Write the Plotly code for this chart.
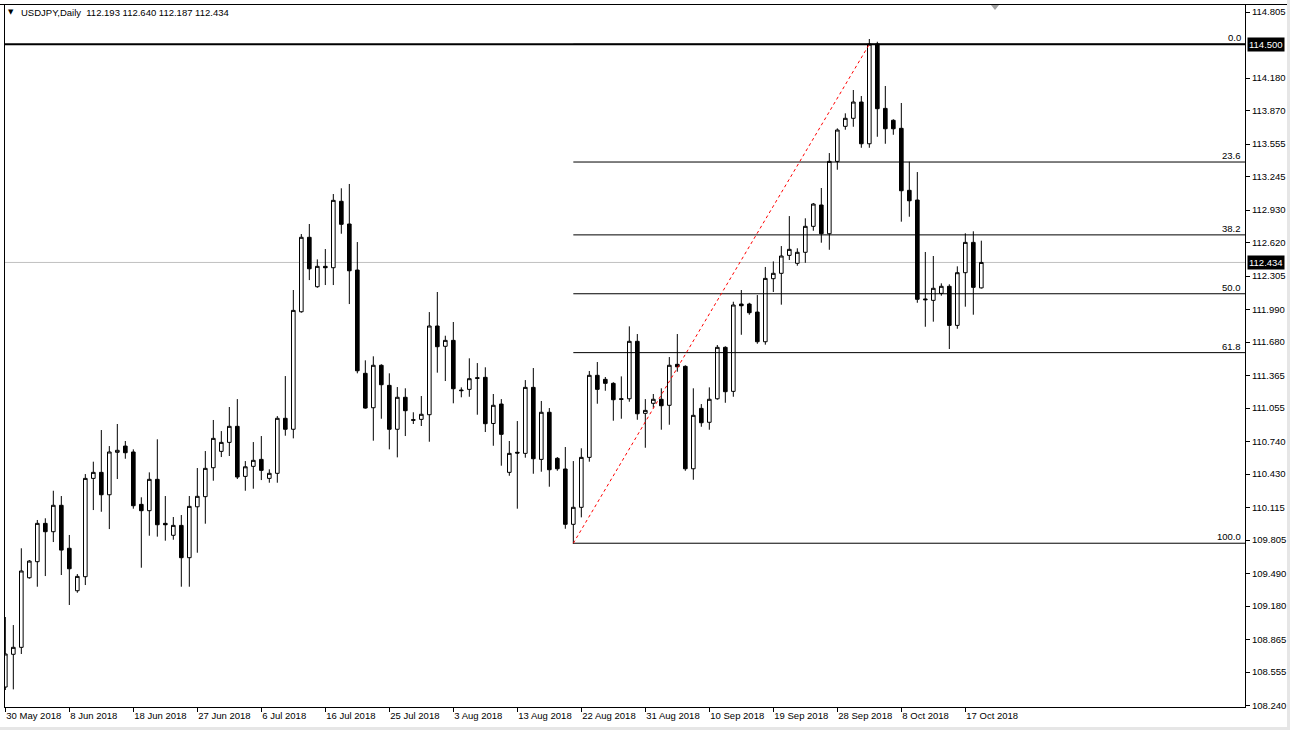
import plotly.graph_objects as go

# ---------------- data ----------------
symbol = "USDJPY,Daily"
date_labels = ["30 May 2018", "8 Jun 2018", "18 Jun 2018", "27 Jun 2018", "6 Jul 2018",
               "16 Jul 2018", "25 Jul 2018", "3 Aug 2018", "13 Aug 2018", "22 Aug 2018",
               "31 Aug 2018", "10 Sep 2018", "19 Sep 2018", "28 Sep 2018", "8 Oct 2018",
               "17 Oct 2018"]
bars_per_label = 8
price_ticks = [114.805, 114.180, 113.870, 113.555, 113.245, 112.930, 112.620, 112.305,
               111.990, 111.680, 111.365, 111.055, 110.740, 110.430, 110.115, 109.805,
               109.490, 109.180, 108.865, 108.555, 108.240]

opens = [108.413, 108.723, 108.789, 109.448, 109.600, 109.963, 109.884, 110.134, 109.727, 109.325,
         109.458, 110.389, 110.446, 110.234, 110.636, 110.695, 110.639, 110.143, 110.083, 110.380,
         109.963, 109.850, 109.944, 109.638, 110.120, 110.216, 110.490, 110.645, 110.730, 110.882,
         110.408, 110.503, 110.569, 110.389, 110.437, 110.958, 110.854, 111.967, 112.672, 112.204,
         112.397, 112.384, 113.013, 112.798, 112.362, 111.384, 111.058, 111.460, 111.270, 110.854,
         111.157, 110.945, 110.948, 110.992, 111.832, 111.640, 111.696, 111.226, 111.232, 111.342,
         111.346, 110.909, 111.093, 110.446, 110.636, 110.626, 111.251, 110.569, 111.015, 110.579,
         110.478, 109.954, 110.115, 110.588, 111.365, 111.327, 111.289, 111.143, 111.143, 111.687,
         111.005, 111.100, 111.138, 111.081, 111.469, 111.450, 110.480, 111.052, 110.920, 111.143,
         111.630, 111.213, 112.040, 112.040, 111.964, 111.683, 112.280, 112.331, 112.501, 112.426,
         112.530, 112.776, 112.978, 112.706, 113.391, 113.723, 113.799, 113.953, 113.558, 114.502,
         113.893, 113.780, 113.704, 113.117, 113.025, 112.088, 112.075, 112.141, 112.208, 111.838,
         112.337, 112.624, 112.193]
highs = [109.076, 109.000, 109.727, 109.616, 109.995, 110.011, 110.272, 110.222, 109.853, 109.483,
         110.430, 110.547, 110.847, 110.695, 110.904, 110.743, 110.664, 110.210, 110.446, 110.759,
         110.222, 110.023, 110.042, 110.222, 110.487, 110.648, 110.942, 110.837, 111.065, 111.140,
         110.553, 110.733, 110.790, 110.475, 110.979, 111.358, 112.173, 112.703, 112.798, 112.463,
         112.561, 113.082, 113.136, 113.177, 112.627, 111.507, 111.545, 111.470, 111.384, 111.254,
         111.242, 111.015, 111.169, 111.964, 112.154, 111.740, 111.870, 111.251, 111.526, 111.481,
         111.441, 111.188, 111.140, 110.743, 110.932, 111.320, 111.434, 111.122, 111.055, 110.591,
         110.686, 110.553, 110.674, 111.406, 111.491, 111.349, 111.300, 111.355, 111.829, 111.756,
         111.140, 111.188, 111.242, 111.538, 111.756, 111.460, 111.242, 111.093, 111.251, 111.652,
         111.640, 112.062, 112.173, 112.052, 112.125, 112.391, 112.444, 112.589, 112.873, 112.568,
         112.852, 112.997, 113.139, 113.470, 113.704, 113.846, 114.067, 114.010, 114.550, 114.524,
         114.105, 113.790, 113.944, 113.388, 113.290, 112.533, 112.495, 112.236, 112.227, 112.397,
         112.710, 112.729, 112.640]
lows = [108.385, 108.391, 108.726, 109.439, 109.363, 109.464, 109.786, 109.474, 109.190, 109.306,
        109.379, 110.089, 110.073, 109.909, 110.383, 110.575, 110.102, 109.543, 109.846, 109.837,
        109.799, 109.808, 109.363, 109.363, 109.685, 109.960, 110.367, 110.591, 110.601, 110.383,
        110.272, 110.291, 110.373, 110.348, 110.348, 110.793, 110.768, 111.958, 112.267, 112.194,
        112.220, 112.220, 112.706, 112.040, 111.384, 111.049, 110.746, 110.954, 110.664, 110.588,
        110.790, 110.904, 110.885, 110.736, 111.390, 111.311, 111.100, 111.157, 111.162, 110.992,
        110.828, 110.698, 110.509, 110.414, 110.102, 110.585, 110.433, 110.452, 110.310, 110.461,
        109.912, 109.770, 110.020, 110.547, 111.096, 111.219, 110.935, 110.954, 111.115, 110.944,
        110.679, 111.058, 110.850, 110.897, 111.399, 110.461, 110.376, 110.878, 110.850, 111.134,
        111.105, 111.162, 111.749, 111.939, 111.664, 111.655, 112.154, 112.034, 112.457, 112.403,
        112.431, 112.734, 112.621, 112.554, 113.312, 113.691, 113.719, 113.520, 113.520, 113.624,
        113.558, 113.643, 112.820, 112.867, 112.052, 111.825, 111.873, 112.119, 111.614, 111.806,
        112.015, 111.939, 112.187]
closes = [108.726, 108.789, 109.512, 109.606, 109.963, 109.884, 110.134, 109.710, 109.533, 109.461,
          110.389, 110.446, 110.234, 110.639, 110.655, 110.632, 110.130, 110.083, 110.380, 109.950,
          109.950, 109.944, 109.638, 110.124, 110.219, 110.484, 110.768, 110.730, 110.882, 110.402,
          110.499, 110.560, 110.465, 110.437, 110.958, 110.854, 111.980, 112.672, 112.374, 112.397,
          112.384, 113.022, 112.795, 112.355, 111.408, 111.055, 111.460, 111.276, 110.854, 111.157,
          111.030, 110.940, 110.996, 111.832, 111.636, 111.696, 111.238, 111.220, 111.333, 111.337,
          110.907, 111.081, 110.806, 110.626, 110.629, 111.251, 110.575, 111.015, 110.471, 110.480,
          109.954, 110.115, 110.588, 111.365, 111.232, 111.289, 111.134, 111.138, 111.687, 111.001,
          111.033, 111.138, 111.077, 111.460, 111.446, 110.480, 110.986, 110.916, 111.138, 111.630,
          111.210, 112.031, 112.024, 111.958, 111.683, 112.283, 112.331, 112.495, 112.558, 112.530,
          112.776, 112.987, 112.706, 113.391, 113.688, 113.799, 113.953, 113.558, 114.502, 113.890,
          113.700, 113.700, 113.113, 113.018, 112.085, 112.081, 112.189, 112.208, 111.838, 112.337,
          112.624, 112.198, 112.434]

fib_levels = [0.0, 23.6, 38.2, 50.0, 61.8, 100.0]
fib_high = 114.500
fib_low = 109.775
fib_start_bar = 71
fib_end_bar = 108
hline_price = 114.500

# ---------------- layout geometry ----------------
W, H = 1290, 730
PL, PR, PT, PB = 5, 1245, 5, 707          # plot area in pixels
X_RANGE = [-0.04, 154.96]
Y_RANGE = [108.224, 114.872]
FONT = "Liberation Sans"
FS = 9.5


def px_x(px):
    return (px - PL) / (PR - PL)


def px_y(py):
    return (PB - py) / (PB - PT)


n = len(opens)
bars = list(range(n))

fig = go.Figure()
fig.add_trace(go.Candlestick(
    x=bars, open=opens, high=highs, low=lows, close=closes,
    increasing=dict(line=dict(color="black", width=1), fillcolor="white"),
    decreasing=dict(line=dict(color="black", width=1), fillcolor="black"),
    whiskerwidth=0, showlegend=False, hoverinfo="skip",
))

shapes = []
last_close = closes[-1]
shapes.append(dict(type="line", xref="paper", yref="y", x0=0, x1=1,
                   y0=last_close, y1=last_close, line=dict(color="#c0c0c0", width=1),
                   layer="below"))
shapes.append(dict(type="line", xref="paper", yref="y", x0=0, x1=1,
                   y0=hline_price, y1=hline_price, line=dict(color="black", width=2)))
annotations = []
for lv in fib_levels:
    p = fib_high - lv / 100.0 * (fib_high - fib_low)
    shapes.append(dict(type="line", xref="x", yref="y", x0=fib_start_bar, x1=X_RANGE[1],
                       y0=p, y1=p, line=dict(color="black", width=1)))
    annotations.append(dict(xref="paper", yref="y", x=1, y=p, xanchor="right", yanchor="bottom",
                            xshift=-2, yshift=-1, text=f"{lv:.1f}", showarrow=False,
                            font=dict(family=FONT, size=FS, color="black")))
shapes.append(dict(type="line", xref="x", yref="y", x0=fib_start_bar, x1=fib_end_bar,
                   y0=fib_low, y1=fib_high, line=dict(color="red", width=1, dash="dot")))

# frame extras
shapes.append(dict(type="line", xref="paper", yref="paper", x0=px_x(0), x1=px_x(1287),
                   y0=px_y(4.5), y1=px_y(4.5), line=dict(color="black", width=1)))
shapes.append(dict(type="line", xref="paper", yref="paper", x0=px_x(4.5), x1=px_x(4.5),
                   y0=px_y(4.5), y1=px_y(707), line=dict(color="black", width=1)))
shapes.append(dict(type="rect", xref="paper", yref="paper", x0=px_x(1287), x1=px_x(1290),
                   y0=px_y(0), y1=px_y(730), line=dict(width=0), fillcolor="#e6e6e6"))
shapes.append(dict(type="rect", xref="paper", yref="paper", x0=px_x(0), x1=px_x(1290),
                   y0=px_y(727), y1=px_y(730), line=dict(width=0), fillcolor="#e6e6e6"))
shapes.append(dict(type="path", xref="paper", yref="paper",
                   path=f"M {px_x(991)} {px_y(5)} L {px_x(999)} {px_y(5)} L {px_x(995)} {px_y(10)} Z",
                   line=dict(width=0), fillcolor="#a0a0a0"))

for val in [hline_price, last_close]:
    annotations.append(dict(xref="paper", yref="y", x=1, y=val, xanchor="left", yanchor="middle",
                            xshift=2, text=f"{val:.3f}", showarrow=False, bgcolor="black",
                            borderpad=1, font=dict(family=FONT, size=FS, color="white")))

annotations.append(dict(xref="paper", yref="paper", x=px_x(6), y=px_y(12.5), xanchor="left",
                        yanchor="middle", text="▼", showarrow=False,
                        font=dict(family="DejaVu Sans", size=7, color="black")))
annotations.append(dict(xref="paper", yref="paper", x=px_x(19), y=px_y(12.5), xanchor="left",
                        yanchor="middle",
                        text=f"{symbol}  {opens[-1]:.3f} {highs[-1]:.3f} {lows[-1]:.3f} {closes[-1]:.3f}",
                        showarrow=False, font=dict(family=FONT, size=FS, color="black")))

fig.update_layout(
    width=W, height=H,
    margin=dict(l=PL, r=W - PR, t=PT, b=H - PB, pad=0, autoexpand=False),
    paper_bgcolor="white", plot_bgcolor="white",
    boxgap=0.35,
    showlegend=False,
    shapes=shapes, annotations=annotations,
    font=dict(family=FONT, size=FS, color="black"),
    xaxis=dict(
        range=X_RANGE, rangeslider=dict(visible=False), automargin=False,
        tickmode="array",
        tickvals=[i * bars_per_label for i in range(len(date_labels))],
        ticktext=date_labels, tickangle=0,
        ticks="outside", ticklen=4, tickcolor="black", tickwidth=1,
        ticklabelposition="outside right",
        showgrid=False, zeroline=False,
        showline=True, linecolor="black", linewidth=1, mirror=True,
        tickfont=dict(family=FONT, size=FS, color="black"),
    ),
    yaxis=dict(
        range=Y_RANGE, side="right", automargin=False,
        tickmode="array", tickvals=price_ticks,
        ticktext=[f"{v:.3f}" for v in price_ticks],
        ticks="outside", ticklen=4, tickcolor="black", tickwidth=1,
        showgrid=False, zeroline=False,
        showline=True, linecolor="black", linewidth=1, mirror=True,
        tickfont=dict(family=FONT, size=FS, color="black"),
    ),
)

fig.write_html("out.html",
               config={"displayModeBar": False},
               post_script="document.body.style.margin='0';document.body.style.overflow='hidden';")
